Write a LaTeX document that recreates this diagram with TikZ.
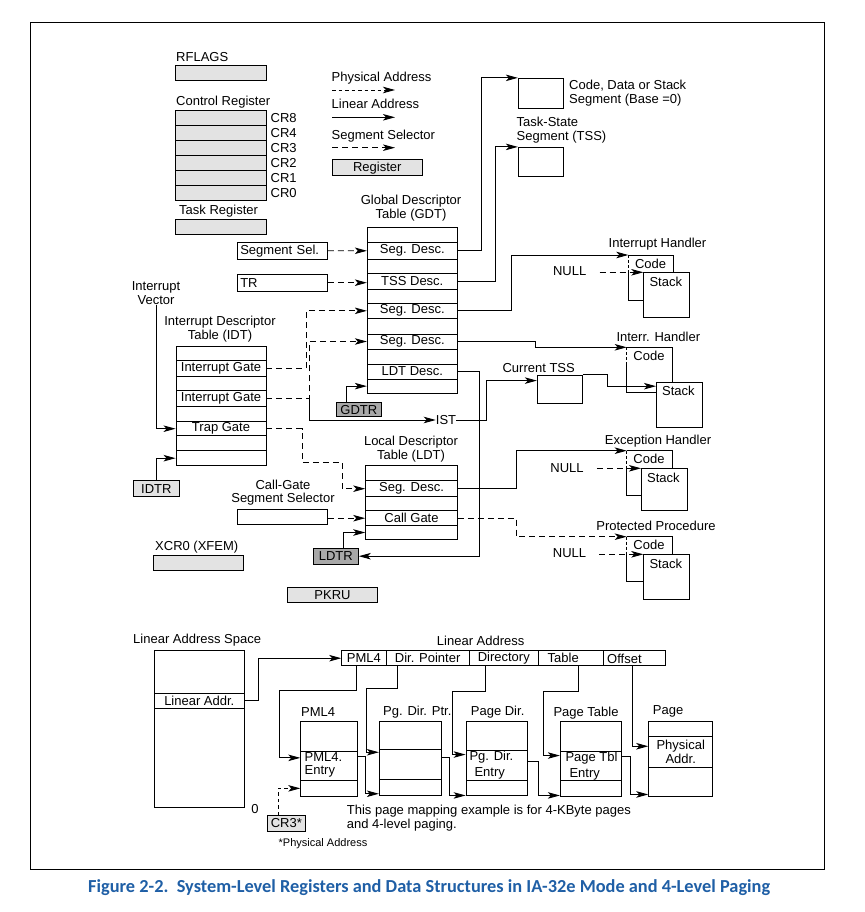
\documentclass[tikz,border=0pt]{standalone}
\usepackage{fontspec}
\usepackage{graphicx}
\setmainfont{Liberation Sans}
\newfontfamily\capfont{Carlito}
\usetikzlibrary{calc,arrows.meta}
\definecolor{regfill}{HTML}{E3E3E3}
\definecolor{dregfill}{HTML}{A8A8A8}
\definecolor{capblue}{HTML}{1F5FA6}
\newcommand{\tblrow}[6]{\node[box, minimum width=#3, minimum height={(#5)-(#4)}] (#1) at (#2,{((#4)+(#5))/2}) {#6};}
\newcommand{\handlerunit}[6]{%
  \coordinate (#1c) at (#2,#3);
  \draw[ln] (#1c) -- ++(45.5,0) -- ++(0,#5);
  \draw[ln, dash pattern=on 3pt off 2pt] (#1c) -- ++(0,18);
  \draw[ln] ($(#1c)+(0,18)$) -- ++(0,27) -- ++(#4,0);
  \node[box, minimum width=45.5, minimum height=#6, anchor=north west] (#1s) at ($(#1c)+(#4,#5)$) {};
  \node[anchor=west] (#1code) at ($(#1c)+(6.5,8.5)$) {Code};
  \node[anchor=west] (#1stk) at ($(#1s.north west)+(6,9.5)$) {Stack};
}
\begin{document}
\begin{tikzpicture}[x=1pt,y=-1pt,
  every node/.style={font=\fontsize{13}{13.6}\selectfont, inner sep=0pt},
  box/.style={draw, line width=0.9pt, align=center, fill=white},
  ln/.style={line width=0.9pt},
  lin/.style={ln, -{Stealth[length=12pt,width=6.5pt,inset=3pt]}},
  sel/.style={lin, dash pattern=on 6pt off 4pt},
  phys/.style={lin, dash pattern=on 3.5pt off 3pt}]
\fill[white] (0,0) rectangle (864,912);
\useasboundingbox (0,0) rectangle (864,912);
\draw[line width=1pt] (30,23) rectangle (824,869);

% ---------- registers top-left
\node[anchor=west] (rflT) at (176,57.5) {RFLAGS};
\node[box, fill=regfill, minimum width=91, minimum height=15] (rflags) at (220.5,72.5) {};
\node[anchor=west] (crT) at (176,102) {Control Register};
\foreach \i/\t in {0/CR8,1/CR4,2/CR3,3/CR2,4/CR1,5/CR0}{
  \node[box, fill=regfill, minimum width=91, minimum height=15] (cr\i) at (220.5,{117.5+15*\i}) {};
  \node[anchor=west] (crl\i) at (270.5,{118.5+15*\i}) {\t};}
\node[anchor=west] (trT) at (179,211) {Task Register};
\node[box, fill=regfill, minimum width=91, minimum height=15] (treg) at (221,226.8) {};

% ---------- legend
\node[anchor=west] (lgP) at (331.5,78.3) {Physical Address};
\coordinate (lgP1) at (332,90); \coordinate (lgP2) at (395,90);
\draw[phys] (lgP1) -- (lgP2);
\node[anchor=west] (lgL) at (331.5,104.3) {Linear Address};
\coordinate (lgL1) at (332,117.3); \coordinate (lgL2) at (395,117.3);
\draw[lin] (lgL1) -- (lgL2);
\node[anchor=west] (lgS) at (331.5,136) {Segment Selector};
\coordinate (lgS1) at (332,147.7); \coordinate (lgS2) at (395,147.7);
\draw[sel] (lgS1) -- (lgS2);
\node[box, fill=regfill, minimum width=90, minimum height=15.7] (lgR) at (377.3,167.8) {Register};

% ---------- segments
\node[box, minimum width=45, minimum height=30] (cds) at (540.8,93.3) {};
\node[anchor=west, align=left] (cdsT) at (569,93.3) {Code, Data or Stack\\Segment (Base =0)};
\node[anchor=west, align=left] (tssT) at (516.5,130.3) {Task-State\\Segment (TSS)};
\node[box, minimum width=45, minimum height=28.7] (tss) at (540.8,161.7) {};

% ---------- GDT
\node[align=center] (gdtT) at (411,208.3) {Global Descriptor\\Table (GDT)};
\tblrow{gdt0}{412.3}{90}{227.7}{242.3}{}
\tblrow{gdt1}{412.3}{90}{242.3}{259.3}{Seg. Desc.}
\tblrow{gdt2}{412.3}{90}{259.3}{273.3}{}
\tblrow{gdt3}{412.3}{90}{273.3}{289.3}{TSS Desc.}
\tblrow{gdt4}{412.3}{90}{289.3}{303.3}{}
\tblrow{gdt5}{412.3}{90}{303.3}{318.3}{Seg. Desc.}
\tblrow{gdt6}{412.3}{90}{318.3}{334}{}
\tblrow{gdt7}{412.3}{90}{334}{349}{Seg. Desc.}
\tblrow{gdt8}{412.3}{90}{349}{364}{}
\tblrow{gdt9}{412.3}{90}{364}{379}{LDT Desc.}
\tblrow{gdt10}{412.3}{90}{379}{393.3}{}

\node[box, minimum width=90, minimum height=16.7, text width=84, align=left] (ssel) at (282.3,250.7) {Segment Sel.};
\node[box, minimum width=90, minimum height=16.7, text width=84, align=left] (trbox) at (282.3,282.7) {TR};
\draw[sel] (ssel.east) -- (gdt1.west);
\draw[sel] (trbox.east) -- (trbox.east -| gdt3.west);

\node[box, fill=dregfill, minimum width=44.3, minimum height=14] (gdtr) at (358.8,409.7) {GDTR};
\draw[lin] ($(gdtr.north west)+(10,0)$) |- (gdt10.west);

\draw[lin] (gdt1.east) -- ++(23.4,0) |- (cds.north west);
\draw[lin] (gdt3.east) -- ++(37.7,0) |- (tss.north west);

% ---------- handlers
\handlerunit{ih1}{628.3}{255}{15}{17.3}{45}
\handlerunit{ih2}{626.7}{347.3}{29.3}{34.4}{45}
\handlerunit{eh}{626.7}{450.7}{14.3}{17.6}{41.7}
\handlerunit{pp}{626.7}{536.7}{16.6}{17.6}{45}
\node (ih1T) at (657.5,244.3) {Interrupt Handler};
\node (ih2T) at (658.3,336.7) {Interr. Handler};
\node (ehT) at (658,440.7) {Exception Handler};
\node (ppT) at (656,526) {Protected Procedure};
\node (null1) at (569.7,270.7) {NULL};
\node (null2) at (567,468.3) {NULL};
\node (null3) at (569.5,553.3) {NULL};
\draw[sel] (ih1s.north west -| null1.east) ++(13,0) -- (ih1s.north west);
\draw[sel] (ehs.north west -| null2.east) ++(13,0) -- (ehs.north west);
\draw[sel] (pps.north west -| null3.east) ++(13,0) -- (pps.north west);

\draw[lin] (gdt5.east) -- ++(53.4,0) |- (ih1c);
\draw[lin] (gdt7.east) -- ++(77.2,0) |- (ih2c);

% ---------- IDT
\node[align=center] (iv) at (156,293) {Interrupt\\Vector};
\node[align=center] (idtT) at (220,329) {Interrupt Descriptor\\Table (IDT)};
\tblrow{idt0}{221}{90}{346.7}{360}{}
\tblrow{idt1}{221}{90}{360}{376.7}{Interrupt Gate}
\tblrow{idt2}{221}{90}{376.7}{390}{}
\tblrow{idt3}{221}{90}{390}{406}{Interrupt Gate}
\tblrow{idt4}{221}{90}{406}{421.7}{}
\tblrow{idt5}{221}{90}{421.7}{435.7}{Trap Gate}
\tblrow{idt6}{221}{90}{435.7}{450.7}{}
\tblrow{idt7}{221}{90}{450.7}{465.7}{}
\draw[lin] (iv.south) |- (idt5.west);
\node[box, fill=regfill, minimum width=46, minimum height=16] (idtr) at (156.3,488.7) {IDTR};
\draw[lin] (idtr.north) |- (idt7.west);

\coordinate (j1) at ($(idt1.east)+(39.7,0)$);
\coordinate (j2) at ($(idt3.east)+(43.3,0)$);
\draw[sel] (idt1.east) -- (j1) |- (gdt5.west);
\draw[sel] (idt3.east) -- (j2) |- (gdt7.west);
\node (ist) at (446,420) {IST};
\draw[lin] (j2) |- (ist.west);

\node[box, minimum width=45, minimum height=28.3] (ctss) at (559.8,389.2) {};
\node (ctssT) at (538.7,368.3) {Current TSS};
\draw[lin] (ist.east) -- ++(30,0) |- ($(ctss.north west)+(0,6)$);
\draw[lin] (ctss.north east) -- ++(25,0) |- ($(ih2s.north west)+(0,4.5)$);

% ---------- LDT
\node[align=center] (ldtT) at (411,449.2) {Local Descriptor\\Table (LDT)};
\tblrow{ldt0}{411.5}{91.6}{465.7}{480.7}{}
\tblrow{ldt1}{411.5}{91.6}{480.7}{496.7}{Seg. Desc.}
\tblrow{ldt2}{411.5}{91.6}{496.7}{510.7}{}
\tblrow{ldt3}{411.5}{91.6}{510.7}{525.7}{Call Gate}
\tblrow{ldt4}{411.5}{91.6}{525.7}{539.3}{}
\draw[sel] (idt5.east) -- ++(35.7,0) -- ++(0,33.6) -- ++(40,0) |- (ldt1.west);
\node[align=center] (cgT) at (283,492.5) {Call-Gate\\Segment Selector};
\node[box, minimum width=90, minimum height=15] (cgss) at (282.3,516.8) {};
\draw[sel] (ldt3.west -| cgss.east) -- (ldt3.west);
\node[box, fill=dregfill, minimum width=45, minimum height=15.7] (ldtr) at (335.8,556.2) {LDTR};
\draw[lin] ($(ldtr.north west)+(31,0)$) |- (ldt4.west);
\draw[lin] (gdt9.east) -- ++(21.7,0) |- (ldtr.east);
\draw[lin] (ldt1.east) -- ++(58.7,0) |- (ehc);
\draw[sel] (ldt3.east) -- ++(58.7,0) |- (ppc);

\node[anchor=west] (xcrT) at (155,546.7) {XCR0 (XFEM)};
\node[box, fill=regfill, minimum width=90, minimum height=15] (xcr) at (198.3,562.5) {};
\node[box, fill=regfill, minimum width=89.6, minimum height=15] (pkru) at (332.5,594.8) {PKRU};

% ---------- paging
\node[anchor=west] (lasT) at (133,640) {Linear Address Space};
\tblrow{las0}{199.3}{90}{650.7}{693.3}{}
\tblrow{las1}{199.3}{90}{693.3}{708.3}{Linear Addr.}
\tblrow{las2}{199.3}{90}{708.3}{807.3}{}
\node (zeroT) at (255,809.5) {0};
\node (laT) at (480.7,640.7) {Linear Address};
\node[box, minimum width=44.3, minimum height=15] (lab0) at (363.85,658.2) {PML4};
\node[box, minimum width=83.3, minimum height=15] (lab1) at (427.65,658.2) {Dir. Pointer};
\node[box, minimum width=69, minimum height=15] (lab2) at (503.8,658.2) {Directory};
\node[box, minimum width=65, minimum height=15] (lab3) at (570.8,658.2) {};
\node[anchor=west] (lab3T) at (547.5,658.2) {Table};
\node[box, minimum width=62.4, minimum height=15] (lab4) at (634.5,658.2) {};
\node[anchor=west] (lab4T) at (607,659) {Offset};
\draw[lin] (las1.east) -- ++(14,0) |- (lab0.west);

\node[anchor=west] (pmlT) at (301,711.7) {PML4};
\tblrow{pml0}{329.2}{57}{721}{751}{}
\tblrow{pml1}{329.2}{57}{751}{780.7}{}
\tblrow{pml2}{329.2}{57}{780.7}{796}{}
\node[anchor=west, align=left] (pmlE) at (304.5,764.7) {PML4.\\Entry};

\node[anchor=west] (pdT) at (383,711.7) {Pg. Dir. Ptr.};
\tblrow{pd0}{410.5}{62.4}{721}{749.3}{}
\tblrow{pd1}{410.5}{62.4}{749.3}{779.3}{}
\tblrow{pd2}{410.5}{62.4}{779.3}{795}{}

\node[anchor=west] (pdirT) at (470.7,711.7) {Page Dir.};
\tblrow{pdir0}{496.9}{61.7}{721}{750.7}{}
\tblrow{pdir1}{496.9}{61.7}{750.7}{780}{}
\tblrow{pdir2}{496.9}{61.7}{780}{795}{}
\node[anchor=west, align=left, font=\fontsize{13}{16}\selectfont] (pdirE) at (469.3,764.7) {Pg. Dir.\\\hspace*{5pt}Entry};

\node[anchor=west] (ptT) at (553.3,713.3) {Page Table};
\tblrow{pt0}{591}{61.4}{721}{751.7}{}
\tblrow{pt1}{591}{61.4}{751.7}{780.7}{}
\tblrow{pt2}{591}{61.4}{780.7}{796}{}
\node[anchor=west, align=left, font=\fontsize{13}{16}\selectfont] (ptE) at (565.3,766.3) {Page Tbl\\\hspace*{4pt}Entry};

\node[anchor=west] (pgT) at (652.7,711.7) {Page};
\tblrow{pg0}{680.7}{64}{721.7}{736.7}{}
\tblrow{pg1}{680.7}{64}{736.7}{767.3}{Physical\\Addr.}
\tblrow{pg2}{680.7}{64}{767.3}{796}{}

\node[box, fill=regfill, minimum width=37.3, minimum height=15.3] (cr3) at (286.3,823.3) {CR3*};
\node[font=\fontsize{11}{12}\selectfont] (physNote) at (323,844) {*Physical Address};
\node[anchor=west, align=left] (noteT) at (346.7,818.4) {This page mapping example is for 4-KByte pages\\and 4-level paging.};

\draw[lin] ($(lab0.south west)+(15,0)$) -- ++(0,24.3) -- ++(-76.7,0) |- ($(pml1.north west)+(0,7.3)$);
\draw[phys] ($(cr3.north west)+(11.6,0)$) |- (pml2.west);
\draw[lin] ($(pml1.north east)+(0,6.3)$) -- ++(7.3,0) |- ($(pd2.south west)+(0,-1.7)$);
\draw[lin] ($(lab1.south west)+(12.3,0)$) -- ++(0,22.6) -- ++(-31.6,0) |- ($(pd1.north west)+(0,3.4)$);
\draw[lin] ($(pd1.north east)+(0,9)$) -- ++(7.6,0) |- (pdir2.south west);
\draw[lin] ($(lab2.south west)+(16.4,0)$) -- ++(0,25.3) -- ++(-32.4,0) |- ($(pdir1.north west)+(0,4.3)$);
\draw[lin] ($(pdir1.north east)+(0,11)$) -- ++(10.6,0) |- ($(pt2.south west)+(0,-1)$);
\draw[lin] ($(lab3.south west)+(41,0)$) -- ++(0,25.3) -- ++(-35,0) |- ($(pt1.north west)+(0,4.3)$);
\draw[lin] ($(pt1.north east)+(0,5)$) -- ++(8.3,0) |- ($(pg2.south west)+(0,-2)$);
\draw[lin] ($(lab4.south west)+(30,0)$) |- ($(pg1.north west)+(0,10)$);

% ---------- caption
\node[anchor=west, text=capblue] (cap) at (88,888) {\resizebox{682pt}{!}{\capfont\bfseries Figure 2-2.\ \ System-Level Registers and Data Structures in IA-32e Mode and 4-Level Paging}};
\end{tikzpicture}
\end{document}
